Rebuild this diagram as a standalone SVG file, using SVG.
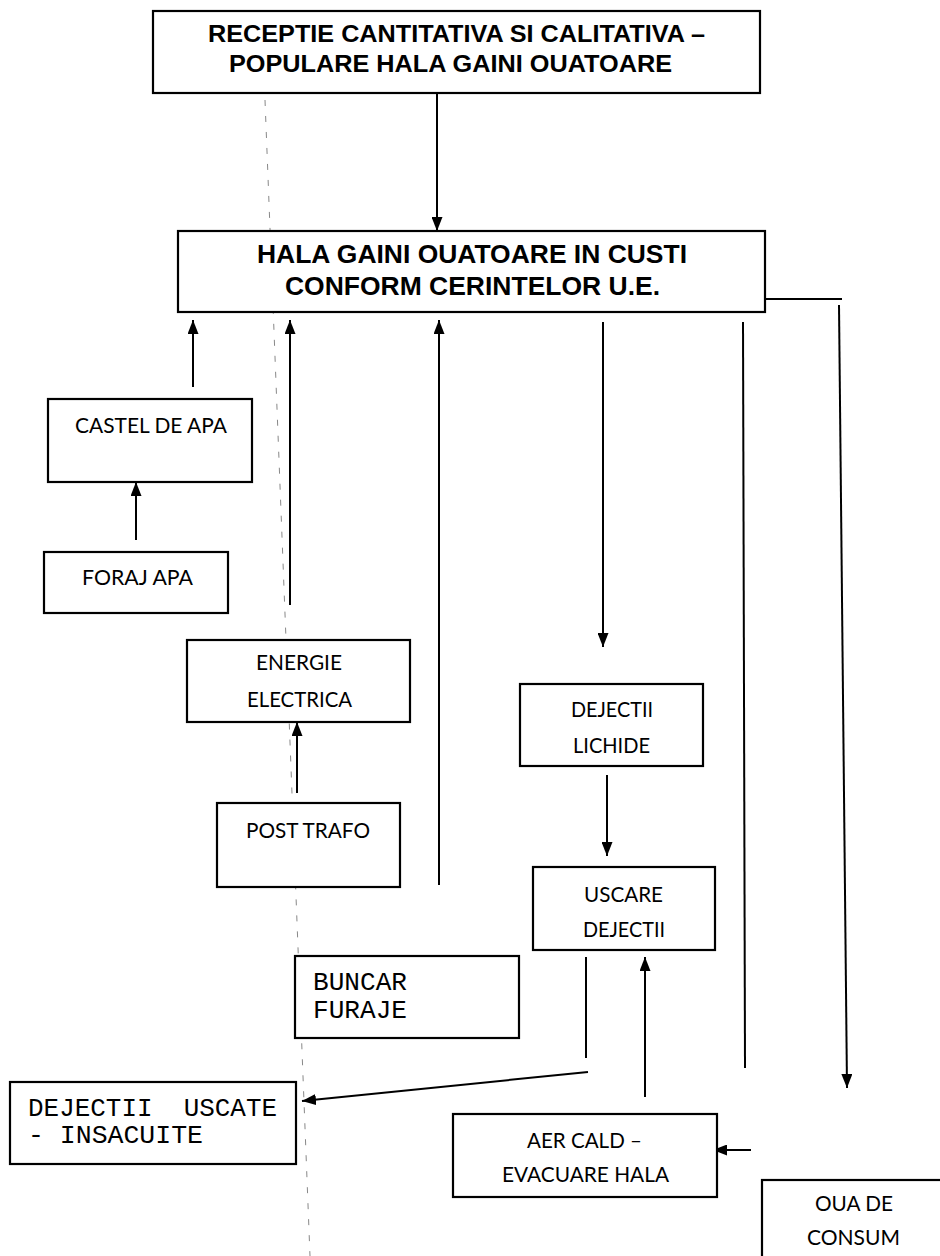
<svg xmlns="http://www.w3.org/2000/svg" width="940" height="1256" viewBox="0 0 940 1256">
<style>
.box{fill:#fff;stroke:#000;stroke-width:2.2}
.bold{font-family:"Liberation Sans",Arial,sans-serif;font-weight:bold;fill:#000}
.cal{font-family:Lato,"Open Sans",sans-serif;font-size:22px;fill:#000}
.mono{font-family:"Liberation Mono","Courier New",monospace;font-size:26px;fill:#000}
.ln{stroke:#000;stroke-width:2;fill:none}
.arr{marker-end:url(#ah)}
</style>
<defs>
<marker id="ah" markerUnits="userSpaceOnUse" markerWidth="14" markerHeight="11" refX="14" refY="5.5" orient="auto">
<path d="M0,0 L14,5.5 L0,11 z" fill="#000"/>
</marker>
</defs>
<rect width="940" height="1256" fill="#fff"/>
<line x1="265" y1="100" x2="310" y2="1256" stroke="#888" stroke-width="1" stroke-dasharray="6,10"/>
<g id="connectors">
<line class="ln arr" x1="437" y1="93" x2="437" y2="231"/>
<line class="ln arr" x1="193" y1="387" x2="193" y2="320"/>
<line class="ln arr" x1="136" y1="540" x2="136" y2="482"/>
<line class="ln arr" x1="290" y1="605" x2="290" y2="320"/>
<line class="ln arr" x1="297" y1="793" x2="297" y2="722"/>
<line class="ln arr" x1="439" y1="885" x2="439" y2="320"/>
<line class="ln arr" x1="603" y1="322" x2="603" y2="647"/>
<line class="ln arr" x1="607" y1="775" x2="607" y2="856"/>
<line class="ln" x1="586" y1="957" x2="586" y2="1058"/>
<line class="ln arr" x1="588" y1="1072" x2="302" y2="1101"/>
<line class="ln arr" x1="645" y1="1097" x2="645" y2="957"/>
<line class="ln" x1="743" y1="322" x2="745" y2="1068"/>
<line class="ln" x1="765" y1="299" x2="842" y2="299"/>
<line class="ln arr" x1="839" y1="305" x2="847" y2="1088"/>
<line class="ln arr" x1="751" y1="1150" x2="713" y2="1150"/>
</g>
<g id="receptie">
<rect class="box" x="153" y="11" width="607" height="82"/>
<text class="bold" font-size="23" x="208" y="42" textLength="497" lengthAdjust="spacingAndGlyphs">RECEPTIE CANTITATIVA SI CALITATIVA –</text>
<text class="bold" font-size="23" x="229" y="72" textLength="443" lengthAdjust="spacingAndGlyphs">POPULARE HALA GAINI OUATOARE</text>
</g>
<g id="hala">
<rect class="box" x="178" y="231" width="587" height="81"/>
<text class="bold" font-size="25" x="257" y="263" textLength="430" lengthAdjust="spacingAndGlyphs">HALA GAINI OUATOARE IN CUSTI</text>
<text class="bold" font-size="25" x="285" y="295" textLength="375" lengthAdjust="spacingAndGlyphs">CONFORM CERINTELOR U.E.</text>
</g>
<g id="castel">
<rect class="box" x="48" y="399" width="204" height="83"/>
<text class="cal" x="75" y="433" textLength="152" lengthAdjust="spacingAndGlyphs">CASTEL DE APA</text>
</g>
<g id="foraj">
<rect class="box" x="44" y="552" width="184" height="61"/>
<text class="cal" x="82" y="585" textLength="111" lengthAdjust="spacingAndGlyphs">FORAJ APA</text>
</g>
<g id="energie">
<rect class="box" x="187" y="640" width="223" height="82"/>
<text class="cal" x="256" y="670" textLength="86" lengthAdjust="spacingAndGlyphs">ENERGIE</text>
<text class="cal" x="247" y="707" textLength="105" lengthAdjust="spacingAndGlyphs">ELECTRICA</text>
</g>
<g id="post-trafo">
<rect class="box" x="217" y="803" width="183" height="84"/>
<text class="cal" x="246" y="838" textLength="124" lengthAdjust="spacingAndGlyphs">POST TRAFO</text>
</g>
<g id="dejectii-lichide">
<rect class="box" x="520" y="684" width="183" height="82"/>
<text class="cal" x="571" y="717" textLength="82" lengthAdjust="spacingAndGlyphs">DEJECTII</text>
<text class="cal" x="573" y="753" textLength="77" lengthAdjust="spacingAndGlyphs">LICHIDE</text>
</g>
<g id="uscare">
<rect class="box" x="533" y="867" width="182" height="83"/>
<text class="cal" x="584" y="902" textLength="79" lengthAdjust="spacingAndGlyphs">USCARE</text>
<text class="cal" x="583" y="937" textLength="82" lengthAdjust="spacingAndGlyphs">DEJECTII</text>
</g>
<g id="buncar">
<rect class="box" x="295" y="956" width="224" height="82"/>
<text class="mono" x="313" y="990" textLength="94" lengthAdjust="spacingAndGlyphs">BUNCAR</text>
<text class="mono" x="313" y="1018" textLength="94" lengthAdjust="spacingAndGlyphs">FURAJE</text>
</g>
<g id="dejectii-uscate">
<rect class="box" x="10" y="1082" width="286" height="82"/>
<text class="mono" x="28" y="1116" textLength="249" lengthAdjust="spacingAndGlyphs" xml:space="preserve">DEJECTII  USCATE</text>
<text class="mono" x="28" y="1143" textLength="175" lengthAdjust="spacingAndGlyphs">- INSACUITE</text>
</g>
<g id="aer-cald">
<rect class="box" x="453" y="1114" width="264" height="83"/>
<text class="cal" x="527" y="1148" textLength="115" lengthAdjust="spacingAndGlyphs">AER CALD –</text>
<text class="cal" x="502" y="1182" textLength="167" lengthAdjust="spacingAndGlyphs">EVACUARE HALA</text>
</g>
<g id="oua">
<rect class="box" x="762" y="1180" width="190" height="90"/>
<text class="cal" x="815" y="1211" textLength="78" lengthAdjust="spacingAndGlyphs">OUA DE</text>
<text class="cal" x="807" y="1245" textLength="93" lengthAdjust="spacingAndGlyphs">CONSUM</text>
</g>
</svg>
